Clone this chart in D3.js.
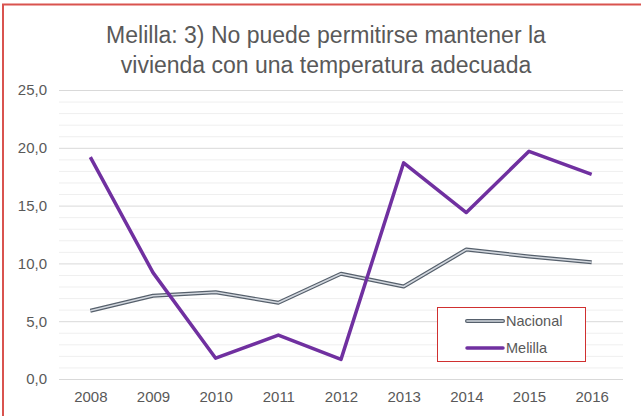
<!DOCTYPE html>
<html>
<head>
<meta charset="utf-8">
<script src="https://cdn.jsdelivr.net/npm/d3@7"></script>
<style>
  body { margin: 0; background: #fff; }
  svg { display: block; font-family: "Liberation Sans", "DejaVu Sans", sans-serif; }
</style>
</head>
<body>
<svg id="chart" width="641" height="416"></svg>
<script>
const years = ['2008', '2009', '2010', '2011', '2012', '2013', '2014', '2015', '2016']
const nacional = [5.9, 7.2, 7.5, 6.6, 9.1, 8.0, 11.2, 10.6, 10.1]
const melilla = [19.2, 9.2, 1.8, 3.8, 1.7, 18.7, 14.4, 19.7, 17.7]
const yTicks = [0, 5, 10, 15, 20, 25]
const titleLines = ['Melilla: 3) No puede permitirse mantener la', 'vivienda con una temperatura adecuada']

const svg = d3.select('#chart')
const plotLeft = 59, plotRight = 623, plotTop = 90, plotBottom = 379

// outer frame (right and bottom edges fall outside the picture)
svg.append('rect')
    .attr('x', 3).attr('y', 4.5)
    .attr('width', 660).attr('height', 440)
    .attr('fill', 'none')
    .attr('stroke', '#d9534f')
    .attr('stroke-width', 2)

svg.selectAll('.title').data(titleLines).enter()
    .append('text')
    .attr('x', 326)
    .attr('y', (d, i) => 43 + i * 30)
    .attr('text-anchor', 'middle')
    .attr('font-size', '23px')
    .attr('fill', '#595959')
    .text(d => d)

let x = d3.scalePoint().domain(years).range([plotLeft, plotRight]).padding(0.5)
let y = d3.scaleLinear().domain([0, 25]).range([plotBottom, plotTop])

// minor + major gridlines every 1 unit
svg.append('g').selectAll('line').data(d3.range(1, 26)).enter()
    .append('line')
    .attr('x1', plotLeft).attr('x2', plotRight)
    .attr('y1', d => y(d) + 0.5).attr('y2', d => y(d) + 0.5)
    .attr('stroke', d => d % 5 === 0 ? '#d9d9d9' : '#efefef')
    .attr('stroke-width', 1)

svg.append('g')
    .attr('transform', `translate(0,${plotBottom + 0.5})`)
    .call(d3.axisBottom(x).tickSize(0).tickPadding(12))
    .call(g => g.select('.domain').attr('stroke', '#d9d9d9').attr('d', `M${plotLeft},0H${plotRight}`))
    .call(g => g.selectAll('text').attr('font-size', '15px').attr('fill', '#595959')
        .attr('font-family', '"Liberation Sans", sans-serif'))

svg.append('g')
    .attr('transform', `translate(${plotLeft},0)`)
    .call(d3.axisLeft(y).tickValues(yTicks).tickSize(0).tickPadding(12)
        .tickFormat(d => d3.format('.1f')(d).replace('.', ',')))
    .call(g => g.select('.domain').remove())
    .call(g => g.selectAll('text').attr('font-size', '15px').attr('fill', '#595959')
        .attr('font-family', '"Liberation Sans", sans-serif'))

let line = d3.line().x((d, i) => x(years[i])).y(d => y(d))

svg.append('path').datum(nacional)
    .attr('d', line).attr('fill', 'none')
    .attr('stroke', '#56606c').attr('stroke-width', 4)
    .attr('stroke-linejoin', 'round')
svg.append('path').datum(nacional)
    .attr('d', line).attr('fill', 'none')
    .attr('stroke', '#d2d7de').attr('stroke-width', 1.6)
    .attr('stroke-linejoin', 'round')

svg.append('path').datum(melilla)
    .attr('d', line).attr('fill', 'none')
    .attr('stroke', '#7030a0').attr('stroke-width', 3.5)
    .attr('stroke-linejoin', 'round')

// legend
let legend = svg.append('g')
legend.append('rect')
    .attr('x', 437.5).attr('y', 307.5)
    .attr('width', 148).attr('height', 54)
    .attr('fill', '#fff')
    .attr('stroke', '#d03030').attr('stroke-width', 1)

let items = [
    { name: 'Nacional', color: '#56606c', inner: '#d2d7de' },
    { name: 'Melilla', color: '#7030a0', inner: null }
]
items.forEach((it, i) => {
    let ly = 321 + i * 27
    legend.append('line')
        .attr('x1', 467).attr('x2', 503).attr('y1', ly).attr('y2', ly)
        .attr('stroke', it.color).attr('stroke-width', it.inner ? 4 : 3.5)
        .attr('stroke-linecap', 'round')
    if (it.inner) {
        legend.append('line')
            .attr('x1', 467).attr('x2', 503).attr('y1', ly).attr('y2', ly)
            .attr('stroke', it.inner).attr('stroke-width', 1.6)
            .attr('stroke-linecap', 'round')
    }
    legend.append('text')
        .attr('x', 506).attr('y', ly + 5)
        .attr('font-size', '14.5px').attr('fill', '#595959')
        .text(it.name)
})
</script>
</body>
</html>
